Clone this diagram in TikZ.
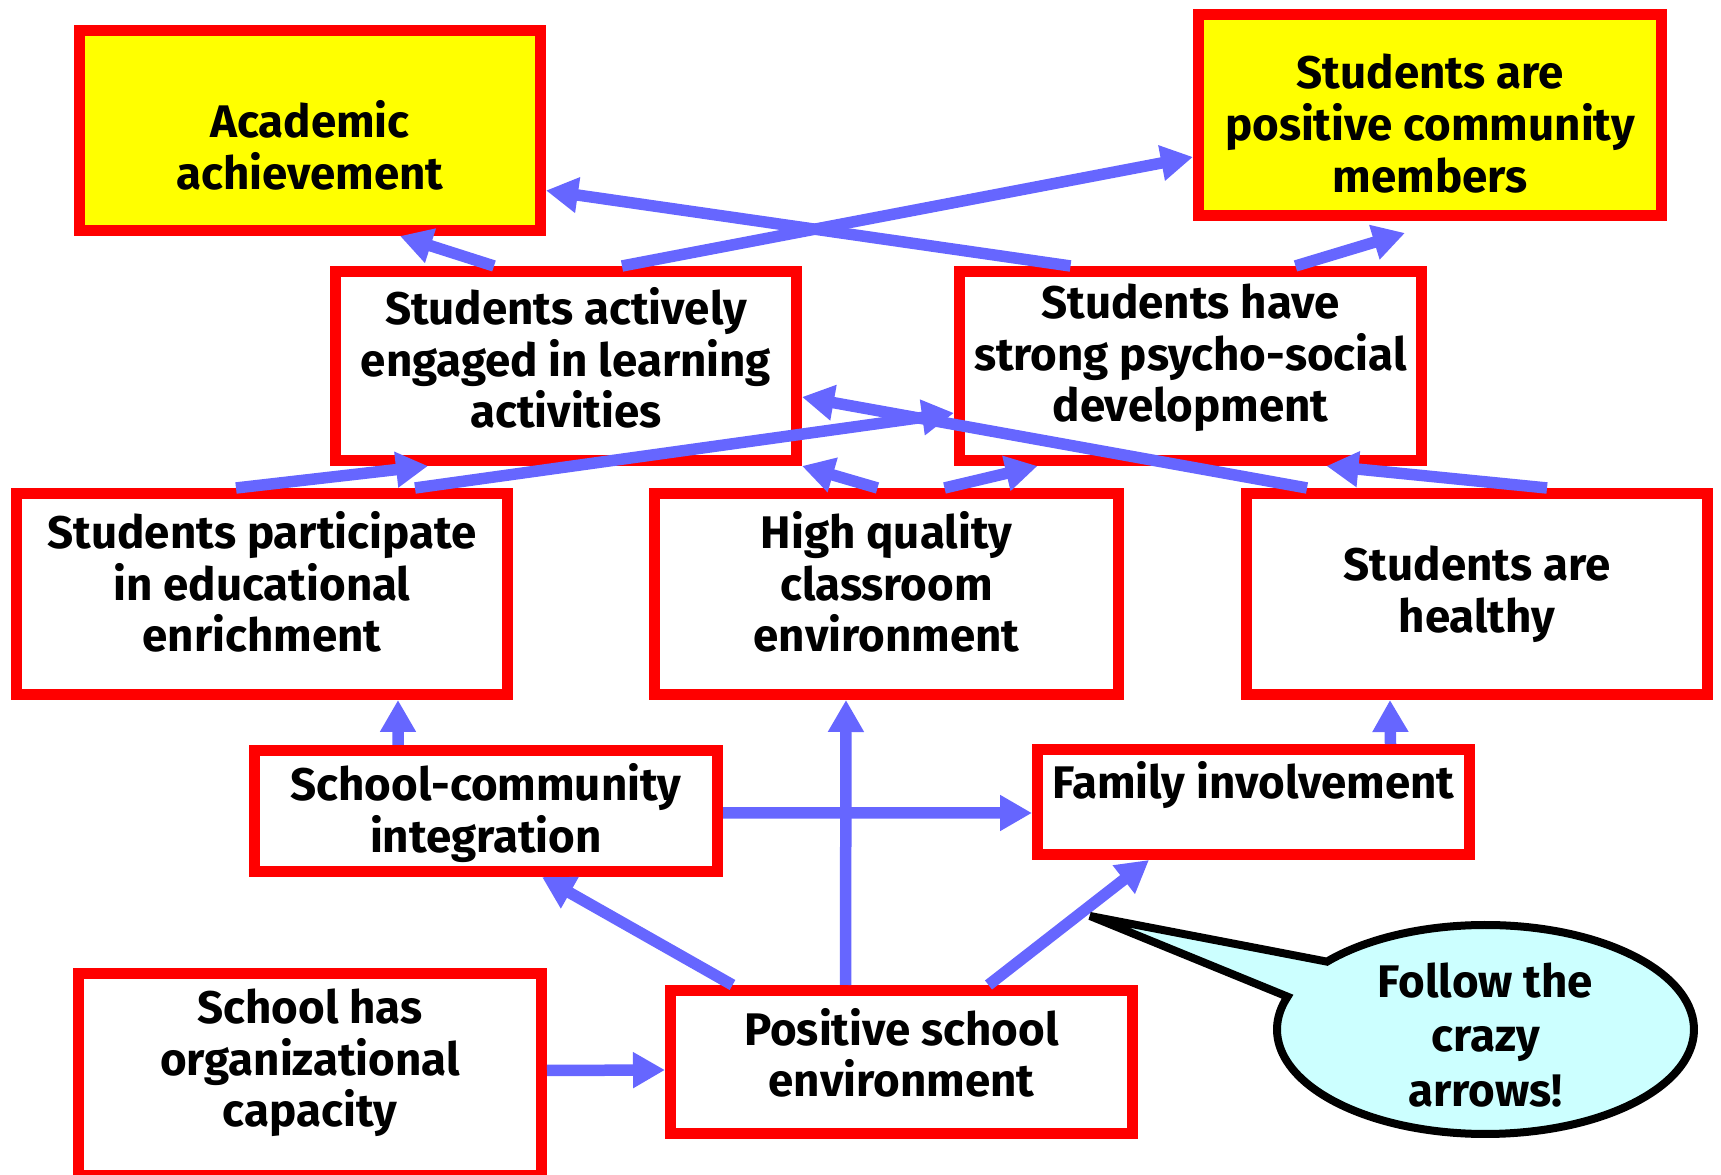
\documentclass[tikz,border=0pt]{standalone}
\usepackage{fontspec}
\setmainfont{Fira Sans}
\usetikzlibrary{arrows.meta,calc}

\definecolor{boxred}{HTML}{FF0000}
\definecolor{goalyellow}{HTML}{FFFF00}
\definecolor{flowblue}{HTML}{6666FF}
\definecolor{bubblecyan}{HTML}{CCFFFF}

\newcommand{\boxfont}{\fontsize{13}{14.7}\selectfont\bfseries}

\begin{document}
\begin{tikzpicture}[x=0.1mm,y=-0.1mm,>={Triangle[length=3.2mm,width=3.4mm]},
  box/.style={draw=boxred,line width=1.1mm,fill=white,inner sep=0pt},
  goal/.style={box,fill=goalyellow},
  txt/.style={align=center,font=\boxfont},
  flow/.style={->,draw=flowblue,line width=1.15mm},
  callout/.style={draw=black,fill=bubblecyan,line width=0.8mm}]
\useasboundingbox (0,0) rectangle (1721,1175);

% outcomes
\node[goal,minimum width=46.1mm,minimum height=20mm,
  label={[txt,yshift=-1.5mm]center:Academic\\achievement}] (acad) at (310,130.5) {};
\node[goal,minimum width=46.3mm,minimum height=20.1mm,
  label={[txt,yshift=-0.85mm]center:Students are\\positive community\\members}] (comm) at (1430,115) {};

% student level
\node[box,minimum width=46.1mm,minimum height=18.9mm,
  label={[txt,yshift=0.8mm]center:Students actively\\engaged in learning\\activities}] (eng) at (566,366) {};
\node[box,minimum width=46.2mm,minimum height=18.9mm,
  label={[txt,yshift=0.8mm]center:Students have\\strong psycho-social\\development}] (psy) at (1190.5,366) {};
\node[box,minimum width=49.1mm,minimum height=20.1mm,
  label={[txt,yshift=1.2mm]center:Students participate\\in educational\\enrichment}] (enr) at (262,594) {};
\node[box,minimum width=46.4mm,minimum height=20.1mm,
  label={[txt,yshift=1.2mm]center:High quality\\classroom\\environment}] (hq) at (886.5,594) {};
\node[box,minimum width=46.1mm,minimum height=20.1mm,
  label={[txt]center:Students are\\healthy}] (hlth) at (1477,594) {};

% school level
\node[box,minimum width=46.3mm,minimum height=12.1mm,
  label={[txt,yshift=-0.2mm]center:School-community\\integration}] (sci) at (486,811) {};
\node[box,minimum width=43.2mm,minimum height=10.5mm,
  label={[txt,yshift=1.7mm]center:Family involvement}] (fam) at (1253.5,802) {};
\node[box,minimum width=46.3mm,minimum height=20.2mm,
  label={[txt,yshift=1.15mm]center:School has\\organizational\\capacity}] (org) at (310,1074.5) {};
\node[box,minimum width=46.2mm,minimum height=14.3mm,
  label={[txt,yshift=0.9mm]center:Positive school\\environment}] (pse) at (901.5,1062) {};

% arrows
\draw[flow] ([xshift=-7.2mm]eng.north) -- ([xshift=9mm]acad.south);
\draw[flow] ([xshift=5.6mm]eng.north) -- ([yshift=-4.2mm]comm.west);
\draw[flow] ([xshift=-12mm]psy.north) -- ([yshift=-6mm]acad.east);
\draw[flow] ([xshift=10.5mm]psy.north) -- ([xshift=-2.5mm,yshift=-1.2mm]comm.south);
\draw[flow] ([xshift=-2.6mm]enr.north) -- ([xshift=-13.8mm]eng.south);
\draw[flow] ([xshift=15.3mm]enr.north) -- ([yshift=-4.7mm]psy.west);
\draw[flow] ([xshift=-17mm]hlth.north) -- ([yshift=-3.1mm]eng.east);
\draw[flow] ([xshift=7mm]hlth.north) -- ([xshift=13.6mm]psy.south);
\draw[flow] ([xshift=-0.9mm]hq.north) -- (eng.south east);
\draw[flow] ([xshift=5.8mm]hq.north) -- ([xshift=-15.3mm]psy.south);
\draw[flow] ([xshift=-8.8mm]sci.north) -- ([xshift=13.6mm]enr.south);
\draw[flow] ([yshift=-0.2mm]sci.east) -- ([yshift=-1.1mm]fam.west);
\draw[flow] ([xshift=-5.6mm]pse.north) -- ([xshift=-4.05mm]hq.south);
\draw[flow] ([xshift=-16.9mm]pse.north) -- ([xshift=5.6mm]sci.south);
\draw[flow] ([xshift=8.7mm]pse.north) -- ([xshift=-10.45mm]fam.south);
\draw[flow] ([xshift=13.7mm]fam.north) -- ([xshift=-8.7mm]hlth.south);
\draw[flow] ([yshift=0.4mm]org.east) -- ([yshift=-0.8mm]pse.west);

% speech bubble
\coordinate (tail) at (1090,916);
\coordinate (bubc) at (1485.5,1029.5);
\draw[callout] (tail) -- ($(bubc)+(220.5:208.5 and 104.5)$)
  arc[start angle=220.5,end angle=558.3,x radius=208.5,y radius=104.5] -- cycle;
\node[txt,font=\fontsize{13}{15.6}\selectfont\bfseries] (bub) at ([yshift=-0.55mm]bubc)
  {Follow the\\crazy\\arrows!};
\end{tikzpicture}
\end{document}
